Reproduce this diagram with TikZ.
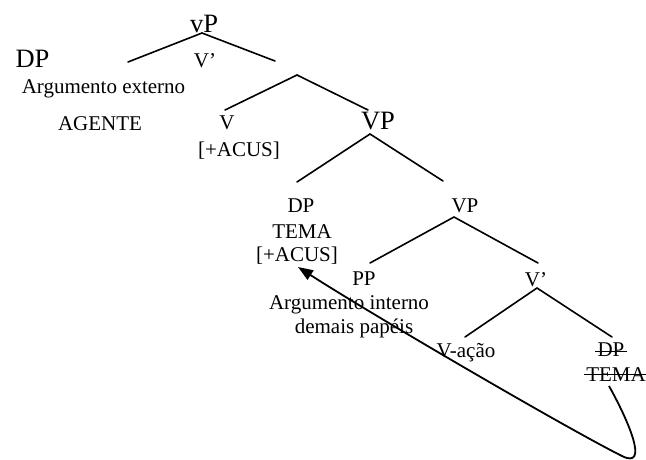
\documentclass[tikz,border=0pt]{standalone}
\usepackage{fontspec}
\setmainfont{Liberation Serif}
\usetikzlibrary{arrows.meta}
\tikzset{
  lbl/.style={font=\fontsize{21}{25}\selectfont, inner sep=0pt, anchor=base},
  biglbl/.style={font=\fontsize{26.5}{30}\selectfont, inner sep=0pt, anchor=base},
  branch/.style={line width=1.6pt, line cap=round},
  strike/.style={line width=1.3pt},
  movearrow/.style={line width=1.8pt, -{Triangle[length=15pt,width=11pt]}}
}
\begin{document}
\begin{tikzpicture}[x=1pt,y=-1pt]
\path[use as bounding box] (0,0) rectangle (646,459);
% labels
\node[biglbl] (vP) at (204,32) {vP};
\node[biglbl] (DPa) at (32.5,67) {DP};
\node[lbl] (argext) at (103.5,93) {Argumento externo};
\node[lbl] (vbar) at (205,67) {V’};
\node[lbl] (agente) at (100,130) {AGENTE};
\node[lbl] (v) at (227,129) {V};
\node[lbl] (acus1) at (239,156) {[+ACUS]};
\node[biglbl] (VPa) at (378,129) {VP};
\node[lbl] (DPb) at (301,212) {DP};
\node[lbl] (tema) at (302,238) {TEMA};
\node[lbl] (acus2) at (297,261) {[+ACUS]};
\node[lbl] (VPb) at (465,212) {VP};
\node[lbl] (PP) at (364,285) {PP};
\node[lbl] (argint) at (349,309) {Argumento interno};
\node[lbl] (demais) at (354,333) {demais papéis};
\node[lbl] (Vbar) at (536,286) {V’};
\node[lbl] (vacao) at (466,357) {V-ação};
\node[lbl] (DPc) at (611,356) {DP};
\node[lbl] (temac) at (616,381) {TEMA};
% strike-through of the trace
\draw[strike] ([xshift=-2pt,yshift=4.5pt]DPc.base west) -- ([xshift=2pt,yshift=4.5pt]DPc.base east);
\draw[strike] ([xshift=-2pt,yshift=6.5pt]temac.base west) -- ([xshift=2pt,yshift=6.5pt]temac.base east);
% branch points
\coordinate (a1) at (202,33);
\coordinate (a1l) at (128,62);
\coordinate (a1r) at (275,61);
\coordinate (a2) at (297,75);
\coordinate (a2l) at (225,110);
\coordinate (a2r) at (368,110);
\coordinate (a3) at (370,134);
\coordinate (a3l) at (297,182);
\coordinate (a3r) at (443,181);
\coordinate (a4) at (454,217);
\coordinate (a4l) at (370,263);
\coordinate (a4r) at (538,263);
\coordinate (a5) at (537,288);
\coordinate (a5l) at (465,337);
\coordinate (a5r) at (612,337);
\draw[branch] (a1l) -- (a1) -- (a1r);
\draw[branch] (a2l) -- (a2) -- (a2r);
\draw[branch] (a3l) -- (a3) -- (a3r);
\draw[branch] (a4l) -- (a4) -- (a4r);
\draw[branch] (a5l) -- (a5) -- (a5r);
% movement arrow
\coordinate (mstart) at (609,386);
\coordinate (mturn) at (622,456);
\coordinate (mtip) at (298,267);
\draw[movearrow] (mstart) .. controls (628,420) and (650,470) .. (mturn)
  .. controls (566,428) and (371,314) .. (mtip);
\end{tikzpicture}
\end{document}
